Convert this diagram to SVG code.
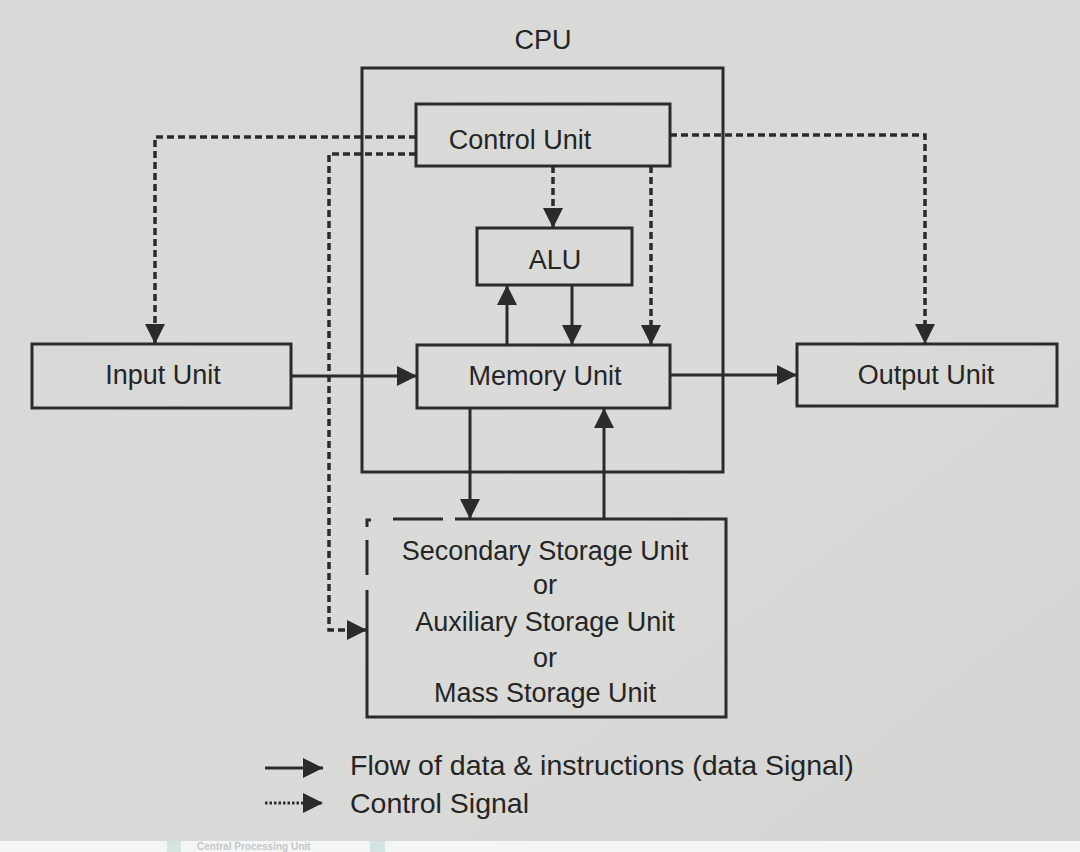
<svg xmlns="http://www.w3.org/2000/svg" width="1080" height="852" viewBox="0 0 1080 852">
  <defs>
    <linearGradient id="paper" x1="0" y1="0" x2="1" y2="1">
      <stop offset="0" stop-color="#d9d9d7"/>
      <stop offset="0.6" stop-color="#dadad8"/>
      <stop offset="1" stop-color="#d4d4d2"/>
    </linearGradient>
    <marker id="ah" markerUnits="userSpaceOnUse" markerWidth="22" markerHeight="22" refX="20" refY="10" orient="auto">
      <path d="M0,0 L20,10 L0,20 z" fill="#2b2b2b"/>
    </marker>
  </defs>
  <style>
    .box { fill: none; stroke: #2b2b2b; stroke-width: 3; }
    .lbl { font-family: "Liberation Sans", Arial, sans-serif; font-size: 27px; fill: #252525; text-anchor: middle; }
    .leg { font-family: "Liberation Sans", Arial, sans-serif; font-size: 28.5px; fill: #252525; }
    .data { fill: none; stroke: #2b2b2b; stroke-width: 3; marker-end: url(#ah); }
    .ctrl { fill: none; stroke: #2b2b2b; stroke-width: 3.5; stroke-dasharray: 7 4; marker-end: url(#ah); }
  </style>

  <rect x="0" y="0" width="1080" height="852" fill="url(#paper)"/>
  <rect x="0" y="841" width="1080" height="11" fill="#f4f6f6"/>
  <rect x="167" y="841" width="14" height="11" fill="#d3e4e3"/>
  <rect x="370" y="841" width="15" height="11" fill="#d3e4e3"/>
  <text x="197" y="850" font-family="Liberation Sans, Arial, sans-serif" font-size="10" font-weight="bold" fill="#c4c8c8">Central Processing Unit</text>

  <g id="cpu">
    <rect class="box" x="362" y="68" width="361" height="404"/>
    <text class="lbl" x="543" y="49">CPU</text>
  </g>

  <g id="control-unit">
    <rect class="box" x="416" y="104" width="254" height="62"/>
    <text class="lbl" x="520" y="149">Control Unit</text>
  </g>

  <g id="alu">
    <rect class="box" x="477" y="228" width="155" height="57"/>
    <text class="lbl" x="555" y="269">ALU</text>
  </g>

  <g id="memory-unit">
    <rect class="box" x="417" y="345" width="253" height="63"/>
    <text class="lbl" x="545" y="385">Memory Unit</text>
  </g>

  <g id="input-unit">
    <rect class="box" x="32" y="344" width="259" height="64"/>
    <text class="lbl" x="163" y="384">Input Unit</text>
  </g>

  <g id="output-unit">
    <rect class="box" x="797" y="344" width="260" height="62"/>
    <text class="lbl" x="926" y="384">Output Unit</text>
  </g>

  <g id="secondary-storage">
    <path class="box" d="M367,527 L367,520 L371,520 M393,519 L443,519 M455,519 L726,519 L726,717 L367,717 L367,590 M367,575 L367,540"/>
    <text class="lbl" x="545" y="560">Secondary Storage Unit</text>
    <text class="lbl" x="545" y="594">or</text>
    <text class="lbl" x="545" y="631">Auxiliary Storage Unit</text>
    <text class="lbl" x="545" y="667">or</text>
    <text class="lbl" x="545" y="702">Mass Storage Unit</text>
  </g>

  <g id="connectors">
    <!-- control signals -->
    <path class="ctrl" d="M416,137 L155,137 L155,344"/>
    <path class="ctrl" d="M416,154 L329,154 L329,630 L367,630"/>
    <path class="ctrl" d="M553,166 L553,228"/>
    <path class="ctrl" d="M651,166 L651,345"/>
    <path class="ctrl" d="M670,135 L925,135 L925,344"/>
    <!-- data flow -->
    <path class="data" d="M291,376 L417,376"/>
    <path class="data" d="M670,375 L797,375"/>
    <path class="data" d="M507,345 L507,285"/>
    <path class="data" d="M572,285 L572,345"/>
    <path class="data" d="M470,408 L470,519"/>
    <path class="data" d="M604,519 L604,408"/>
  </g>

  <g id="legend">
    <path class="data" d="M265,768 L323,768"/>
    <text class="leg" x="350" y="775">Flow of data &amp; instructions (data Signal)</text>
    <path fill="none" stroke="#2b2b2b" stroke-width="3" stroke-dasharray="2.5 2" d="M265,803 L323,803" marker-end="url(#ah)"/>
    <text class="leg" x="350" y="813">Control Signal</text>
  </g>
</svg>
